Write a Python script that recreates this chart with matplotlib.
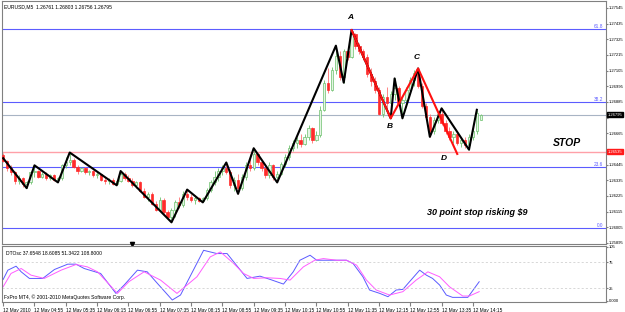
import numpy as np
import matplotlib.pyplot as plt
from matplotlib.transforms import blended_transform_factory

plt.rcParams['font.family'] = ['Liberation Sans', 'DejaVu Sans']

# --- datos de velas EURUSD M5 (12 May 2010) ---
opens = [1.2651, 1.2647, 1.2642, 1.2639, 1.2633, 1.2635, 1.2631, 1.2632, 1.2639, 1.2640,
         1.2636, 1.2638, 1.2635, 1.2637, 1.2634, 1.2635, 1.2644, 1.2646, 1.2648, 1.2643,
         1.2640, 1.2642, 1.2639, 1.2640, 1.2637, 1.2638, 1.2634, 1.2633, 1.2634, 1.2631,
         1.2633, 1.2638, 1.2635, 1.2633, 1.2630, 1.2632, 1.2626, 1.2622, 1.2624, 1.2617,
         1.2613, 1.2620, 1.2611, 1.2608, 1.2613, 1.2618, 1.2616, 1.2624, 1.2622, 1.2620,
         1.2621, 1.2619, 1.2621, 1.2627, 1.2632, 1.2636, 1.2640, 1.2642, 1.2639, 1.2630,
         1.2634, 1.2628, 1.2636, 1.2644, 1.2642, 1.2652, 1.2646, 1.2642, 1.2637, 1.2644,
         1.2636, 1.2638, 1.2645, 1.2650, 1.2656, 1.2660, 1.2662, 1.2659, 1.2664, 1.2670,
         1.2662, 1.2665, 1.2683, 1.2702, 1.2697, 1.2711, 1.2721, 1.2706, 1.2724, 1.2720,
         1.2736, 1.2728, 1.2724, 1.2720, 1.2708, 1.2703, 1.2697, 1.2680, 1.2692, 1.2688,
         1.2694, 1.2698, 1.2688, 1.2690, 1.2697, 1.2704, 1.2709, 1.2700, 1.2686, 1.2678,
         1.2668, 1.2676, 1.2680, 1.2674, 1.2668, 1.2664, 1.2666, 1.2660, 1.2662, 1.2658,
         1.2664, 1.2668, 1.26761]
highs = [1.2653, 1.2648, 1.2644, 1.2640, 1.2637, 1.2636, 1.2633, 1.2640, 1.2644, 1.2641,
         1.2639, 1.2639, 1.2638, 1.2638, 1.2636, 1.2645, 1.2650, 1.2653, 1.2649, 1.2644,
         1.2643, 1.2643, 1.2641, 1.2641, 1.2639, 1.2638, 1.2636, 1.2635, 1.2635, 1.2634,
         1.2640, 1.2639, 1.2637, 1.2635, 1.2633, 1.2633, 1.2628, 1.2625, 1.2625, 1.2619,
         1.2622, 1.2621, 1.2613, 1.2614, 1.2620, 1.2622, 1.2626, 1.2627, 1.2624, 1.2623,
         1.2622, 1.2622, 1.2628, 1.2634, 1.2640, 1.2642, 1.2644, 1.2646, 1.2641, 1.2636,
         1.2638, 1.2638, 1.2646, 1.2652, 1.2656, 1.2653, 1.2648, 1.2644, 1.2646, 1.2645,
         1.2640, 1.2646, 1.2652, 1.2658, 1.2662, 1.2664, 1.2666, 1.2666, 1.2672, 1.2671,
         1.2668, 1.2686, 1.2704, 1.2712, 1.2713, 1.2728, 1.2724, 1.2726, 1.2726, 1.2739,
         1.2737, 1.2730, 1.2726, 1.2722, 1.2712, 1.2706, 1.2699, 1.2694, 1.2699, 1.2696,
         1.2705, 1.2700, 1.2692, 1.2699, 1.2706, 1.2711, 1.2712, 1.2702, 1.2688, 1.2680,
         1.2678, 1.2682, 1.2684, 1.2676, 1.2671, 1.2668, 1.2667, 1.2664, 1.2664, 1.2666,
         1.2670, 1.2683, 1.26803]
lows = [1.2646, 1.2640, 1.2637, 1.2631, 1.2631, 1.2629, 1.2628, 1.2631, 1.2636, 1.2635,
        1.2635, 1.2634, 1.2634, 1.2633, 1.2632, 1.2634, 1.2642, 1.2644, 1.2642, 1.2638,
        1.2639, 1.2638, 1.2637, 1.2636, 1.2635, 1.2633, 1.2631, 1.2631, 1.2630, 1.2630,
        1.2632, 1.2634, 1.2632, 1.2629, 1.2628, 1.2625, 1.2621, 1.2619, 1.2616, 1.2612,
        1.2612, 1.2610, 1.2606, 1.2604, 1.2608, 1.2614, 1.2615, 1.2620, 1.2618, 1.2617,
        1.2618, 1.2618, 1.2620, 1.2625, 1.2630, 1.2633, 1.2637, 1.2638, 1.2628, 1.2626,
        1.2624, 1.2627, 1.2634, 1.2640, 1.2641, 1.2644, 1.2640, 1.2635, 1.2635, 1.2634,
        1.2632, 1.2637, 1.2643, 1.2648, 1.2654, 1.2656, 1.2657, 1.2658, 1.2662, 1.2660,
        1.2661, 1.2664, 1.2682, 1.2695, 1.2696, 1.2708, 1.2704, 1.2702, 1.2718, 1.2719,
        1.2726, 1.2722, 1.2718, 1.2706, 1.2700, 1.2695, 1.2679, 1.2678, 1.2684, 1.2677,
        1.2690, 1.2686, 1.2677, 1.2688, 1.2695, 1.2700, 1.2698, 1.2684, 1.2676, 1.2664,
        1.2666, 1.2674, 1.2672, 1.2666, 1.2662, 1.2660, 1.2658, 1.2657, 1.2656, 1.2655,
        1.2662, 1.2666, 1.26756]
closes = [1.2647, 1.2642, 1.2639, 1.2633, 1.2635, 1.2631, 1.2632, 1.2639, 1.2640, 1.2636,
          1.2638, 1.2635, 1.2637, 1.2634, 1.2635, 1.2644, 1.2646, 1.2648, 1.2643, 1.2640,
          1.2642, 1.2639, 1.2640, 1.2637, 1.2638, 1.2634, 1.2633, 1.2634, 1.2631, 1.2633,
          1.2638, 1.2635, 1.2633, 1.2630, 1.2632, 1.2626, 1.2622, 1.2624, 1.2617, 1.2613,
          1.2620, 1.2611, 1.2608, 1.2613, 1.2618, 1.2616, 1.2624, 1.2622, 1.2620, 1.2621,
          1.2619, 1.2621, 1.2627, 1.2632, 1.2636, 1.2640, 1.2642, 1.2639, 1.2630, 1.2634,
          1.2628, 1.2636, 1.2644, 1.2642, 1.2652, 1.2646, 1.2642, 1.2637, 1.2644, 1.2636,
          1.2638, 1.2645, 1.2650, 1.2656, 1.2660, 1.2662, 1.2659, 1.2664, 1.2670, 1.2662,
          1.2665, 1.2683, 1.2702, 1.2697, 1.2711, 1.2721, 1.2706, 1.2724, 1.2720, 1.2736,
          1.2728, 1.2724, 1.2720, 1.2708, 1.2703, 1.2697, 1.2680, 1.2692, 1.2688, 1.2694,
          1.2698, 1.2688, 1.2690, 1.2697, 1.2704, 1.2709, 1.2700, 1.2686, 1.2678, 1.2668,
          1.2676, 1.2680, 1.2674, 1.2668, 1.2664, 1.2666, 1.2660, 1.2662, 1.2658, 1.2664,
          1.2668, 1.2681, 1.26795]

# zigzag negro y patrón ABCD rojo (índice de barra, precio)
zz_bars = [0, 6, 8, 14, 17, 29, 30, 43, 47, 51, 57, 60, 64, 70, 85, 87, 89,
           99, 100, 102, 106, 109, 112, 119, 121]
zz_prices = [1.2649, 1.2628, 1.2644, 1.2632, 1.2653, 1.2630, 1.2640, 1.2604, 1.2627,
             1.2618, 1.2646, 1.2624, 1.2656, 1.2632, 1.2728, 1.2702, 1.2739,
             1.2677, 1.2705, 1.2677, 1.2712, 1.2664, 1.2684, 1.2655, 1.2683]
abcd_bars = [89, 99, 106, 116]
abcd_prices = [1.2739, 1.2677, 1.2712, 1.2652]
abcd_names = ['A', 'B', 'C', 'D']
abcd_label_bars = [88.6, 98.7, 105.6, 112.7]
abcd_label_prices = [1.27475, 1.2671, 1.2720, 1.2649]

# niveles horizontales
fib_levels = [1.27398, 1.26885, 1.26429, 1.26001]
fib_names = ['61.8', '38.2', '23.6', '0.0']
stop_level = 1.26535
last_price = 1.26795
price_ticks = [1.27545, 1.27435, 1.27325, 1.27215, 1.27105, 1.26995, 1.26885, 1.26775,
               1.26665, 1.26555, 1.26445, 1.26335, 1.26225, 1.26115, 1.26005, 1.25895]
hidden_ticks = [1.26775, 1.26555]  # tapados por las etiquetas de precio

# oscilador DTOsc (barra, valor)
fast_x = [0, 1.2, 3.3, 4.6, 6.7, 10.1, 13.1, 16.5, 18.6, 20.7, 24.9, 28.8, 30.9, 34.3,
          36.8, 39.4, 43.2, 45.3, 51.2, 54.6, 57.2, 60.6, 62.3, 65.6, 68.2, 71.6, 74.1,
          75.8, 78.4, 80.1, 83.5, 87.7, 89.4, 91.9, 93.6, 96.2, 98.3, 100.4, 102.1,
          103.8, 106.4, 108.1, 109.7, 111.5, 113.2, 114.8, 118.7, 121.6]
fast_y = [41.7, 59.6, 67.3, 56.4, 43.6, 43.6, 60.9, 71.2, 71.2, 62.8, 53.2, 14.7, 30.8,
          59.6, 56.4, 34.0, 1.9, 11.5, 98.0, 91.7, 91.7, 59.6, 43.6, 48.0, 41.7, 32.7,
          56.4, 78.8, 88.5, 78.8, 78.8, 78.8, 72.4, 46.8, 21.2, 14.7, 8.3, 21.2, 22.4,
          37.2, 59.6, 50.0, 43.6, 30.8, 11.5, 7.0, 7.0, 37.2]
slow_x = [0, 2.0, 4.6, 7.1, 10.5, 14.8, 18.6, 21.5, 24.1, 29.2, 32.1, 36.0, 40.2, 44.4,
          49.5, 52.9, 55.5, 58.9, 61.4, 64.0, 67.4, 70.7, 73.3, 76.7, 79.6, 81.8, 85.2,
          87.7, 90.3, 92.8, 95.3, 98.7, 102.1, 105.5, 108.5, 111.5, 114.0, 117.4, 119.1,
          121.6]
slow_y = [27.6, 53.2, 62.8, 50.0, 43.6, 59.6, 70.5, 66.0, 56.4, 14.7, 37.2, 56.4, 40.4,
          14.7, 46.8, 85.3, 94.9, 72.4, 53.2, 43.6, 44.9, 43.6, 40.4, 66.0, 78.8, 82.0,
          78.8, 78.8, 69.2, 40.4, 21.2, 11.5, 18.0, 40.4, 56.4, 46.8, 27.6, 9.6, 9.6, 18.0]

time_ticks = list(range(0, 121, 8))
time_labels = ['12 May 2010', '12 May 04:55', '12 May 05:35', '12 May 06:15',
               '12 May 06:55', '12 May 07:35', '12 May 08:15', '12 May 08:55',
               '12 May 09:35', '12 May 10:15', '12 May 10:55', '12 May 11:35',
               '12 May 12:15', '12 May 12:55', '12 May 13:35', '12 May 14:15']

fs = 3.0
frame = '#808080'

fig = plt.figure(figsize=(6.25, 3.12), dpi=100)
ax = fig.add_axes([0.0032, 0.218, 0.9664, 0.779])
axo = fig.add_axes([0.0032, 0.032, 0.9664, 0.179])

# velas
x = np.arange(len(closes))
o = np.array(opens)
h = np.array(highs)
l = np.array(lows)
c = np.array(closes)
up = c >= o
ax.vlines(x[up], l[up], h[up], color='#6cc06c', lw=0.6, zorder=2)
ax.vlines(x[~up], l[~up], h[~up], color='#ff7070', lw=0.6, zorder=2)
ax.bar(x[up], (c - o)[up], bottom=o[up], width=0.6, color='#e4f5e4',
       edgecolor='#6cc06c', lw=0.5, zorder=3)
ax.bar(x[~up], (o - c)[~up], bottom=c[~up], width=0.6, color='#ff2b2b',
       edgecolor='#ff2b2b', lw=0.5, zorder=3)

# líneas horizontales
tr = blended_transform_factory(ax.transAxes, ax.transData)
for lev, name in zip(fib_levels, fib_names):
    ax.axhline(lev, color='#5c5cff', lw=0.8, zorder=1)
    ax.text(0.995, lev, name, transform=tr, ha='right', va='bottom', fontsize=3.4,
            color='#5c5cff')
ax.axhline(stop_level, color='#ffa0a8', lw=1.0, zorder=1)
ax.axhline(last_price, color='#a8b4c4', lw=0.8, zorder=1)

# zigzag
ax.plot(zz_bars, zz_prices, color='black', lw=1.5, zorder=4)
ax.plot(abcd_bars, abcd_prices, color='#ff1010', lw=1.5, zorder=5)
for bx, py, name in zip(abcd_label_bars, abcd_label_prices, abcd_names):
    ax.text(bx, py, name, ha='center', va='center', fontsize=6, fontweight='bold',
            fontstyle='italic')
ax.text(144, 1.26597, 'STOP', ha='center', va='center', fontsize=7.5,
        fontweight='bold', fontstyle='italic')
ax.text(121, 1.26106, '30 point stop risking $9', ha='center', va='center',
        fontsize=6.5, fontweight='bold', fontstyle='italic')

ax.set_xlim(-0.3, 154)
ax.set_ylim(1.25888, 1.27594)
ax.yaxis.tick_right()
ax.set_yticks(price_ticks)
ax.set_yticklabels(['' if p in hidden_ticks else '%.5f' % p for p in price_ticks])
ax.tick_params(axis='y', labelsize=fs, length=1.5, pad=0.3, color=frame)
ax.set_xticks([])
for s in ax.spines.values():
    s.set_color(frame)
    s.set_linewidth(0.8)

# etiquetas de precio en el eje
ax.text(1.003, last_price, '%.5f' % last_price, transform=tr, fontsize=fs,
        color='white', va='center', ha='left',
        bbox=dict(boxstyle='square,pad=0.15', fc='black', ec='black'))
ax.text(1.003, stop_level, '%.5f' % stop_level, transform=tr, fontsize=fs,
        color='white', va='center', ha='left',
        bbox=dict(boxstyle='square,pad=0.15', fc='#ff1a1a', ec='#ff1a1a'))
ax.plot(33, 1.25888, marker='v', color='black', ms=3, clip_on=False, zorder=6)

fig.text(4 / 625, 1 - 7 / 312, 'EURUSD,M5  1.26761 1.26803 1.26756 1.26795',
         fontsize=3.6, ha='left', va='center')

# oscilador
axo.plot(fast_x, fast_y, color='#5a5aff', lw=0.7)
axo.plot(slow_x, slow_y, color='#ff5cff', lw=0.7)
for lev in [75, 25]:
    axo.axhline(lev, color='#c8c8c8', lw=0.5, ls=(0, (3, 3)))
axo.set_xlim(-0.3, 154)
axo.set_ylim(-2, 106)
axo.yaxis.tick_right()
axo.set_yticks([105, 75, 25, 0])
axo.set_yticklabels(['105', '75', '25', '0.000'])
axo.tick_params(axis='y', labelsize=fs, length=1.5, pad=0.3, color=frame)
axo.set_xticks(time_ticks)
axo.set_xticklabels(time_labels, ha='left')
axo.tick_params(axis='x', labelsize=3.4, length=3, pad=1.2, color=frame)
for s in axo.spines.values():
    s.set_color(frame)
    s.set_linewidth(0.8)
axo.text(0.006, 0.92, 'DTOsc 37.6548 18.6085 51.3422 108.8000', transform=axo.transAxes,
         fontsize=3.6, ha='left', va='top')
axo.text(0.004, 0.03, 'FxPro MT4, © 2001-2010 MetaQuotes Software Corp.',
         transform=axo.transAxes, fontsize=3.6, ha='left', va='bottom')

fig.savefig('out.png', dpi=100)
